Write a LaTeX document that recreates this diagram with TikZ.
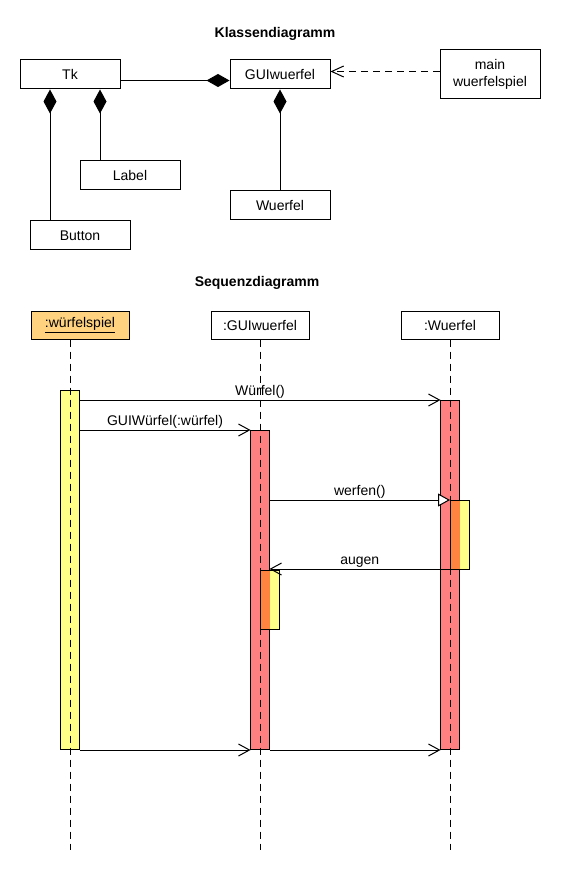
\documentclass[tikz,border=0pt]{standalone}
\usepackage{fontspec}
\setmainfont{Liberation Sans}
\usetikzlibrary{arrows.meta}
\definecolor{kopf}{HTML}{FFD280}
\definecolor{gelb}{HTML}{FFFF88}
\definecolor{rot}{HTML}{FF8080}
\definecolor{mix}{HTML}{FF8440}
\begin{document}
\begin{tikzpicture}[x=1pt,y=-1pt,line width=1pt,font=\fontsize{14}{17}\selectfont,
	klasse/.style={draw,minimum width=100pt,minimum height=29pt,inner sep=0pt,align=center},
	akt/.style={draw,minimum width=19pt,inner sep=0pt,outer sep=0pt,anchor=north},
	leben/.style={dash pattern=on 7pt off 5pt},
	nachricht/.style={-{Straight Barb[length=11pt,width=12pt]}},
	komp/.style={{Diamond[length=24pt,width=13pt]}-}]
	\useasboundingbox (0,0) rectangle (560,890);
	% Klassendiagramm
	\node[font=\fontsize{14}{17}\selectfont\bfseries] (titel1) at (275,34) {Klassendiagramm};
	\node[klasse] (tk) at (70,74.5) {Tk};
	\node[klasse] (gui) at (280,74.5) {GUIwuerfel};
	\node[klasse,minimum height=49pt] (main) at (490,74.5) {main\\wuerfelspiel};
	\node[klasse] (label) at (130,175) {Label};
	\node[klasse] (wuerfel) at (280,205) {Wuerfel};
	\node[klasse] (button) at (80,235.5) {Button};
	\draw[-{Diamond[length=23pt,width=13pt]}] ([yshift=-6pt]tk.east) -- ([yshift=-6pt]gui.west);
	\draw[komp] (tk.south -| 50,0) -- (button.north -| 50,0);
	\draw[komp] (tk.south -| 100,0) -- (label.north -| 100,0);
	\draw[komp] (gui.south) -- (wuerfel.north);
	\draw[leben,-{Straight Barb[length=12pt,width=11pt]}] ([yshift=3pt]main.west) -- ([yshift=3pt]gui.east);
	% Sequenzdiagramm
	\node[font=\fontsize{14}{17}\selectfont\bfseries] (titel2) at (257,283) {Sequenzdiagramm};
	\node[klasse,fill=kopf,minimum width=98pt,minimum height=28pt] (wsp) at (80,325) {\underline{:würfelspiel}};
	\node[klasse,minimum width=98pt,minimum height=28pt] (guiobj) at (260,325) {:GUIwuerfel};
	\node[klasse,minimum width=98pt,minimum height=28pt] (wobj) at (450,325) {:Wuerfel};
	\node[akt,fill=gelb,minimum height=359pt] (a1) at (70,390) {};
	\node[akt,fill=rot,minimum height=319pt] (a2) at (260,430) {};
	\node[akt,fill=rot,minimum height=349pt] (a3) at (450,400) {};
	\node[akt,fill=gelb,minimum height=69pt,anchor=north west] (a4) at (450,500) {};
	\node[akt,fill=gelb,minimum height=59pt,anchor=north west] (a5) at (260,570) {};
	\fill[mix] (a4.north west) rectangle (a3.east |- a4.south);
	\fill[mix] (a5.north west) rectangle (a2.east |- a5.south);
	\draw (a4.north west) rectangle (a4.south east);
	\draw (a5.north west) rectangle (a5.south east);
	\draw[leben] (wsp.south -| a1.center) -- (a1.center |- 0,850);
	\draw[leben] (guiobj.south) -- (guiobj.center |- 0,850);
	\draw[leben] (wobj.south) -- (wobj.center |- 0,850);
	\draw[nachricht] (a1.east |- 0,400) -- node[above,inner sep=1pt] {Würfel()} (a3.west |- 0,400);
	\draw[nachricht] (a1.east |- 0,430) -- node[above,inner sep=1pt] {GUIWürfel(:würfel)} (a2.west |- 0,430);
	\draw[-{Triangle[length=12pt,width=13pt,fill=white]}] (a2.east |- a4.north) -- node[above,inner sep=1pt] {werfen()} (a4.north west);
	\draw[nachricht] (a4.south west) -- node[above,inner sep=1pt] {augen} (a2.east |- a4.south);
	\draw[nachricht] (a1.east |- 0,750) -- (a2.west |- 0,750);
	\draw[nachricht] (a2.east |- 0,750) -- (a3.west |- 0,750);
\end{tikzpicture}
\end{document}
